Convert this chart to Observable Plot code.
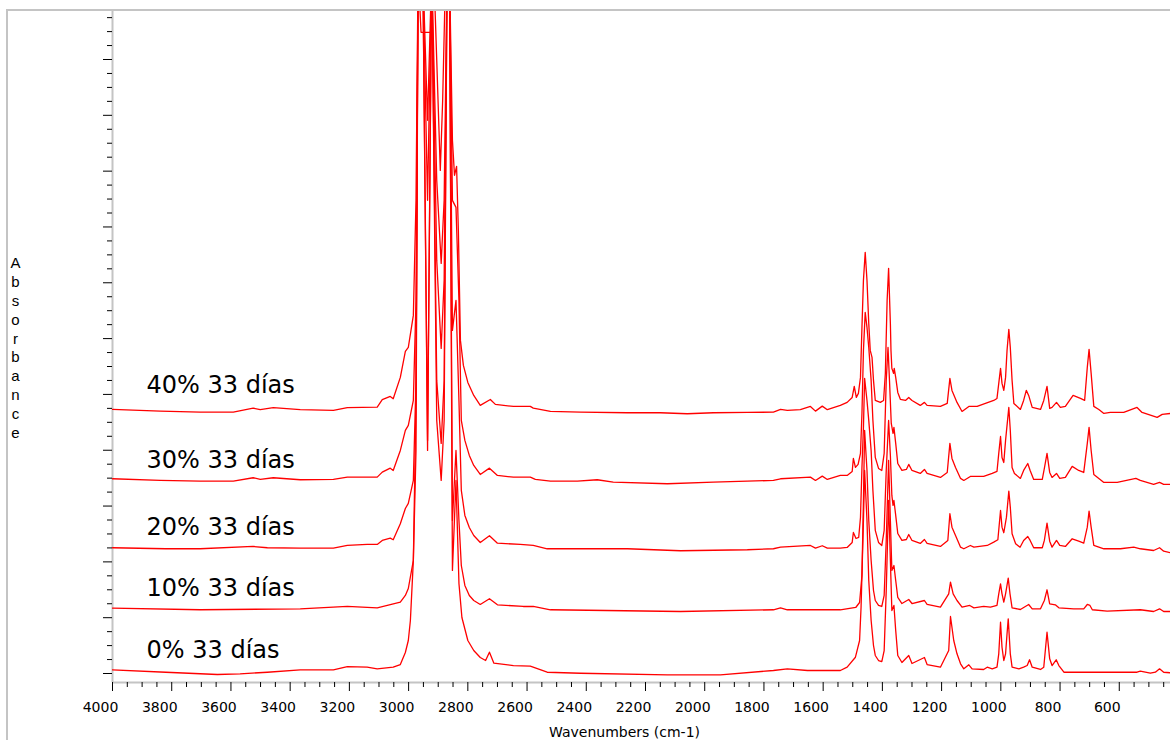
<!DOCTYPE html>
<html><head><meta charset="utf-8">
<script src="https://cdn.jsdelivr.net/npm/d3@7"></script>
<script src="https://cdn.jsdelivr.net/npm/@observablehq/plot@0.6"></script>
<style>
html,body{margin:0;padding:0;background:#fff;overflow:hidden;}
#wrap{position:relative;width:1170px;height:740px;}
#chart{position:absolute;left:0;top:0;}
#border{position:absolute;left:6px;top:9px;width:1200px;height:800px;border-left:2px solid #c4c4c4;border-top:2px solid #c4c4c4;pointer-events:none;}
</style></head>
<body><div id="wrap"><div id="chart"></div><div id="border"></div></div>
<script>
// Wavenumber (cm-1), absorbance (a.u., stacked)
const s0 = [[4000,0.066],[3820,0.023],[3646,-0.018],[3569,-0.005],[3477,0.023],[3366,0.066],[3254,0.066],[3207,0.125],[3140,0.113],[3106,0.084],[3052,0.113],[3028,0.161],[3011,0.376],[3001,0.591],[2994,0.950],[2984,2.025],
[2975,4.892],[2968,12.6],[2952,12.6],[2936,3.996],[2922,12.6],[2905,4.534],[2890,3.459],[2880,4.534],[2870,12.6],[2862,12.6],[2852,1.846],[2840,3.459],[2830,1.613],[2820,1.004],[2800,0.591],[2780,0.412],
[2758,0.287],[2740,0.233],[2727,0.382],[2712,0.185],[2646,0.143],[2589,0.131],[2532,0.023],[2420,0.005],[2126,-0.023],[1947,-0.023],[1768,0.054],[1721,0.084],[1653,0.054],[1542,0.054],
[1519,0.113],[1491,0.292],[1477,0.591],[1472,1.188],[1464,2.742],[1460,3.638],[1452,2.742],[1446,1.667],[1438,0.950],[1430,0.502],[1424,0.323],[1413,0.233],[1402,0.215],[1394,0.412],[1387,1.487],[1379,3.100],[1373,2.025],[1368,1.129],[1361,1.219],[1355,0.771],[1348,0.323],[1334,0.197],[1311,0.323],[1300,0.179],[1258,0.287],[1249,0.161],[1204,0.113],[1176,0.412],[1170,1.022],[1159,0.591],[1148,0.353],[1136,0.174],[1125,0.084],[1108,0.156],[1097,0.084],[1058,0.072],[1046,0.113],[1029,0.084],[1013,0.113],[1007,0.353],[1001,0.919],[996,0.471],[990,0.233],[984,0.353],[979,0.711],[975,0.980],[968,0.353],[962,0.113],[939,0.084],[923,0.113],[911,0.143],[903,0.246],[894,0.113],[866,0.072],[855,0.113],[844,0.740],[835,0.263],[827,0.143],[813,0.246],[804,0.143],[787,0.023],[641,0.023],[540,0.023],[529,0.041],[495,0.005],[478,0.023],[464,0.084],[450,0.023],[427,0.013]];

const s10 = [[4000,1.170],[3704,1.142],[3366,1.159],[3207,1.201],[3106,1.177],[3028,1.278],[3011,1.398],[3001,1.523],[2984,2.025],
[2975,3.996],[2968,12.6],[2952,12.6],[2936,4.176],[2922,12.6],[2905,5.251],[2890,4.122],[2880,5.251],[2870,12.6],[2862,12.6],[2852,2.742],[2840,3.996],[2830,2.742],[2822,1.935],[2810,1.577],[2795,1.398],[2780,1.308],
[2758,1.237],[2727,1.339],[2700,1.231],[2613,1.201],[2579,1.201],[2521,1.142],[2082,1.111],[1768,1.142],[1744,1.177],[1721,1.142],[1542,1.142],
[1490,1.183],[1477,1.272],[1469,1.756],[1464,3.100],[1460,4.355],[1452,3.638],[1446,2.742],[1438,2.025],[1430,1.487],[1424,1.308],[1413,1.219],[1402,1.201],[1394,1.398],[1387,2.384],[1379,3.817],[1373,2.742],[1368,1.846],[1361,1.935],[1355,1.667],[1348,1.362],[1334,1.254],[1311,1.326],[1300,1.254],[1258,1.308],[1249,1.237],[1204,1.188],[1176,1.428],[1170,1.636],[1161,1.428],[1148,1.308],[1131,1.188],[1105,1.219],[1091,1.177],[1058,1.201],[1035,1.188],[1013,1.219],[1007,1.428],[1001,1.607],[996,1.428],[990,1.278],[984,1.428],[975,1.708],[969,1.428],[962,1.177],[934,1.147],[906,1.237],[894,1.159],[866,1.159],[853,1.308],[844,1.500],[835,1.249],[816,1.231],[804,1.177],[754,1.159],[720,1.159],[708,1.237],[699,1.219],[691,1.142],[641,1.116],[529,1.142],[484,1.111],[464,1.159],[450,1.111],[427,1.111]];

const s20 = [[4000,2.253],[3820,2.235],[3704,2.235],[3525,2.276],[3477,2.253],[3366,2.246],[3254,2.246],[3207,2.294],[3140,2.312],[3106,2.312],[3089,2.384],[3062,2.425],[3052,2.396],[3028,2.683],[3011,2.957],[3001,3.047],[2984,3.459],
[2975,5.251],[2968,12.6],[2952,12.6],[2936,8.477],[2922,12.6],[2905,7.401],[2890,5.824],[2880,7.043],[2870,12.6],[2862,12.6],[2852,6.147],[2840,6.685],[2830,4.892],[2822,3.280],[2810,2.832],[2795,2.616],[2780,2.473],
[2758,2.348],[2727,2.468],[2700,2.335],[2623,2.312],[2579,2.294],[2532,2.235],[2261,2.235],[2082,2.199],[1856,2.217],[1768,2.235],[1744,2.263],[1643,2.294],[1626,2.246],[1603,2.289],[1586,2.246],[1542,2.246],
[1519,2.258],[1502,2.348],[1498,2.527],[1489,2.419],[1480,2.437],[1474,2.796],[1469,3.692],[1464,4.409],[1460,5.287],[1452,4.892],[1446,4.534],[1438,3.996],[1432,3.280],[1424,2.563],[1413,2.348],[1402,2.294],[1394,2.563],[1387,3.638],[1379,4.534],[1373,3.907],[1368,3.190],[1364,3.011],[1361,3.100],[1355,2.832],[1348,2.509],[1334,2.384],[1319,2.401],[1311,2.491],[1300,2.384],[1272,2.330],[1258,2.401],[1249,2.330],[1204,2.276],[1179,2.384],[1172,2.862],[1165,2.622],[1153,2.473],[1136,2.263],[1125,2.235],[1103,2.294],[1091,2.263],[1046,2.294],[1024,2.353],[1010,2.396],[1001,2.921],[996,2.622],[990,2.522],[981,2.801],[973,3.267],[968,2.980],[962,2.503],[950,2.324],[935,2.263],[923,2.384],[909,2.455],[901,2.384],[889,2.253],[860,2.253],[853,2.384],[844,2.693],[835,2.371],[827,2.263],[812,2.384],[801,2.294],[782,2.276],[759,2.414],[737,2.371],[720,2.335],[708,2.622],[702,2.909],[695,2.622],[686,2.294],[652,2.235],[596,2.235],[551,2.263],[529,2.235],[484,2.204],[464,2.253],[450,2.192],[427,2.163]];

const s30 = [[4000,3.489],[3839,3.459],[3704,3.446],[3592,3.446],[3525,3.507],[3501,3.477],[3457,3.507],[3366,3.471],[3254,3.477],[3207,3.518],[3106,3.518],[3089,3.608],[3062,3.679],[3052,3.638],[3028,3.996],[3011,4.355],[3001,4.444],[2984,4.892],
[2975,6.685],[2968,12.6],[2952,12.6],[2936,9.910],[2922,12.6],[2905,8.835],[2890,7.348],[2880,8.477],[2870,12.6],[2862,12.6],[2852,8.477],[2840,8.351],[2830,6.685],[2822,4.534],[2810,4.176],[2795,3.907],[2780,3.728],
[2758,3.566],[2727,3.679],[2700,3.548],[2646,3.518],[2589,3.518],[2572,3.477],[2521,3.446],[2430,3.446],[2363,3.471],[2309,3.428],[2126,3.400],[1971,3.428],[1768,3.459],[1744,3.489],[1643,3.518],[1626,3.459],[1603,3.536],[1586,3.477],[1542,3.548],
[1519,3.548],[1502,3.620],[1498,3.853],[1491,3.692],[1482,3.746],[1474,3.943],[1469,4.659],[1464,5.789],[1458,6.470],[1452,6.201],[1446,5.842],[1438,5.251],[1432,4.534],[1424,3.871],[1413,3.674],[1402,3.638],[1394,3.943],[1387,5.251],[1381,5.842],[1376,5.251],[1370,4.480],[1364,4.301],[1361,4.409],[1355,4.122],[1348,3.763],[1334,3.638],[1319,3.656],[1311,3.746],[1300,3.638],[1272,3.584],[1258,3.656],[1249,3.584],[1204,3.513],[1181,3.602],[1172,4.122],[1165,3.853],[1153,3.692],[1136,3.495],[1125,3.459],[1103,3.530],[1058,3.530],[1029,3.584],[1013,3.620],[1007,3.943],[1001,4.247],[996,3.871],[990,3.781],[984,4.176],[973,4.767],[968,4.355],[962,3.692],[954,3.584],[934,3.495],[923,3.638],[909,3.763],[901,3.638],[889,3.477],[860,3.477],[853,3.674],[844,3.943],[835,3.602],[827,3.513],[812,3.584],[801,3.495],[782,3.513],[759,3.710],[737,3.638],[720,3.602],[708,4.122],[702,4.409],[695,3.996],[686,3.566],[652,3.423],[607,3.423],[544,3.495],[529,3.459],[484,3.387],[464,3.423],[450,3.387],[427,3.387]];

const s40 = [[4000,4.731],[3839,4.701],[3704,4.683],[3592,4.683],[3525,4.754],[3501,4.726],[3457,4.762],[3366,4.726],[3254,4.713],[3207,4.762],[3106,4.772],[3089,4.905],[3062,4.964],[3052,4.923],[3028,5.305],[3011,5.771],[3001,5.842],[2984,6.416],
[2975,8.477],[2968,12.6],[2958,11.487],[2945,11.487],[2932,11.487],[2925,11.487],[2915,12.6],[2905,10.986],[2893,9.014],[2885,10.269],[2875,12.6],[2862,12.6],[2852,9.552],[2845,8.925],[2838,9.086],[2832,7.939],[2825,5.968],[2815,5.520],[2800,5.215],[2780,4.982],
[2758,4.803],[2724,4.910],[2707,4.821],[2646,4.785],[2589,4.785],[2579,4.754],[2521,4.695],[2420,4.683],[2261,4.672],[2150,4.672],[2059,4.654],[1971,4.672],[1856,4.677],[1768,4.683],[1744,4.731],[1721,4.713],[1677,4.726],[1643,4.785],[1626,4.701],[1603,4.790],[1586,4.726],[1542,4.803],
[1519,4.857],[1502,4.946],[1495,5.143],[1488,4.946],[1481,5.018],[1474,5.305],[1469,6.201],[1464,7.043],[1458,7.545],[1452,7.043],[1446,6.272],[1441,5.789],[1435,5.663],[1430,5.251],[1424,4.892],[1407,4.857],[1396,4.892],[1390,5.376],[1384,6.685],[1379,7.258],[1373,6.272],[1371,5.789],[1368,5.466],[1362,5.376],[1360,5.466],[1355,5.305],[1348,5.036],[1339,4.910],[1322,4.892],[1311,4.946],[1300,4.892],[1272,4.803],[1258,4.857],[1249,4.803],[1204,4.785],[1181,4.839],[1172,5.287],[1165,5.072],[1148,4.857],[1131,4.695],[1108,4.785],[1080,4.785],[1052,4.839],[1024,4.892],[1013,4.928],[1007,5.197],[1001,5.466],[996,5.197],[990,5.072],[984,5.305],[979,5.789],[973,6.165],[968,5.842],[962,5.251],[956,4.839],[934,4.731],[923,4.892],[914,5.072],[906,4.982],[894,4.767],[866,4.731],[855,4.892],[844,5.143],[835,4.749],[827,4.767],[812,4.857],[799,4.767],[782,4.785],[756,4.982],[731,4.928],[717,4.892],[708,5.484],[702,5.806],[695,5.376],[686,4.785],[669,4.731],[652,4.659],[630,4.677],[585,4.677],[540,4.767],[523,4.677],[472,4.588],[455,4.642],[427,4.659]];

const seriesLabels = ["0% 33 días", "10% 33 días", "20% 33 días", "30% 33 días", "40% 33 días"];
const labelLevels = [0.27, 1.38, 2.49, 3.69, 5.02];
const seriesData = [s0, s10, s20, s30, s40];
const xTickValues = [4000, 3800, 3600, 3400, 3200, 3000, 2800, 2600, 2400, 2200, 2000, 1800, 1600, 1400, 1200, 1000, 800, 600];
const xTitle = "Wavenumbers (cm-1)";
const yTitle = "Absorbance";

const xDomain = [4000, 427];
const yDomain = [-0.161, 11.86];
const xMinor = d3.range(450, 4000, 50).filter(v => v % 200 !== 0);
const yAll = d3.range(0, 48).map(i => i * 0.25);
const yMajor = yAll.filter(v => Number.isInteger(v));
const yMinor = yAll.filter(v => !Number.isInteger(v));

const series = seriesLabels.map((label, i) => ({label, level: labelLevels[i], data: seriesData[i]}));

const chart = Plot.plot({
  width: 1170,
  height: 740,
  marginLeft: 112,
  marginRight: 0,
  marginTop: 11,
  marginBottom: 58,
  style: {fontFamily: "'DejaVu Sans', Verdana, sans-serif", fontSize: "14px", background: "transparent", color: "black"},
  x: {domain: xDomain, label: null},
  y: {domain: yDomain, label: null},
  marks: [
    Plot.ruleX([xDomain[0]], {stroke: "#c4c4c4", strokeWidth: 2}),
    Plot.ruleY([yDomain[0]], {stroke: "#c4c4c4", strokeWidth: 2}),
    Plot.axisX(xTickValues, {tickSize: 9, tickFormat: () => "", label: null}),
    Plot.axisX(xMinor, {tickSize: 5, tickFormat: () => "", label: null}),
    Plot.axisX(xTickValues, {tickSize: 0, tickPadding: 20, dx: -12, tickFormat: d => String(d), label: null, fontSize: 14}),
    Plot.axisY(yMajor, {tickSize: 9, tickFormat: () => "", label: null}),
    Plot.axisY(yMinor, {tickSize: 5, tickFormat: () => "", label: null}),
    ...series.map(s => Plot.line(s.data, {x: d => d[0], y: d => d[1], stroke: "#ff0000", strokeWidth: 1.3, clip: true})),
    Plot.text(series, {x: () => 3885, y: d => d.level, text: d => d.label, textAnchor: "start", lineAnchor: "bottom", fontSize: 24, fill: "black"}),
    Plot.text([yTitle], {frameAnchor: "left", dx: -97, text: d => d.split("").join("\n"), fontSize: 15, lineHeight: 1.26, textAnchor: "middle", fill: "black", fontFamily: "'Liberation Sans', Arial, sans-serif"}),
    Plot.text([xTitle], {frameAnchor: "bottom-left", dx: 512, dy: 54, text: d => d, lineAnchor: "bottom", textAnchor: "middle", fontSize: 14, fill: "black"})
  ]
});
document.getElementById("chart").appendChild(chart);
</script>
</body></html>
